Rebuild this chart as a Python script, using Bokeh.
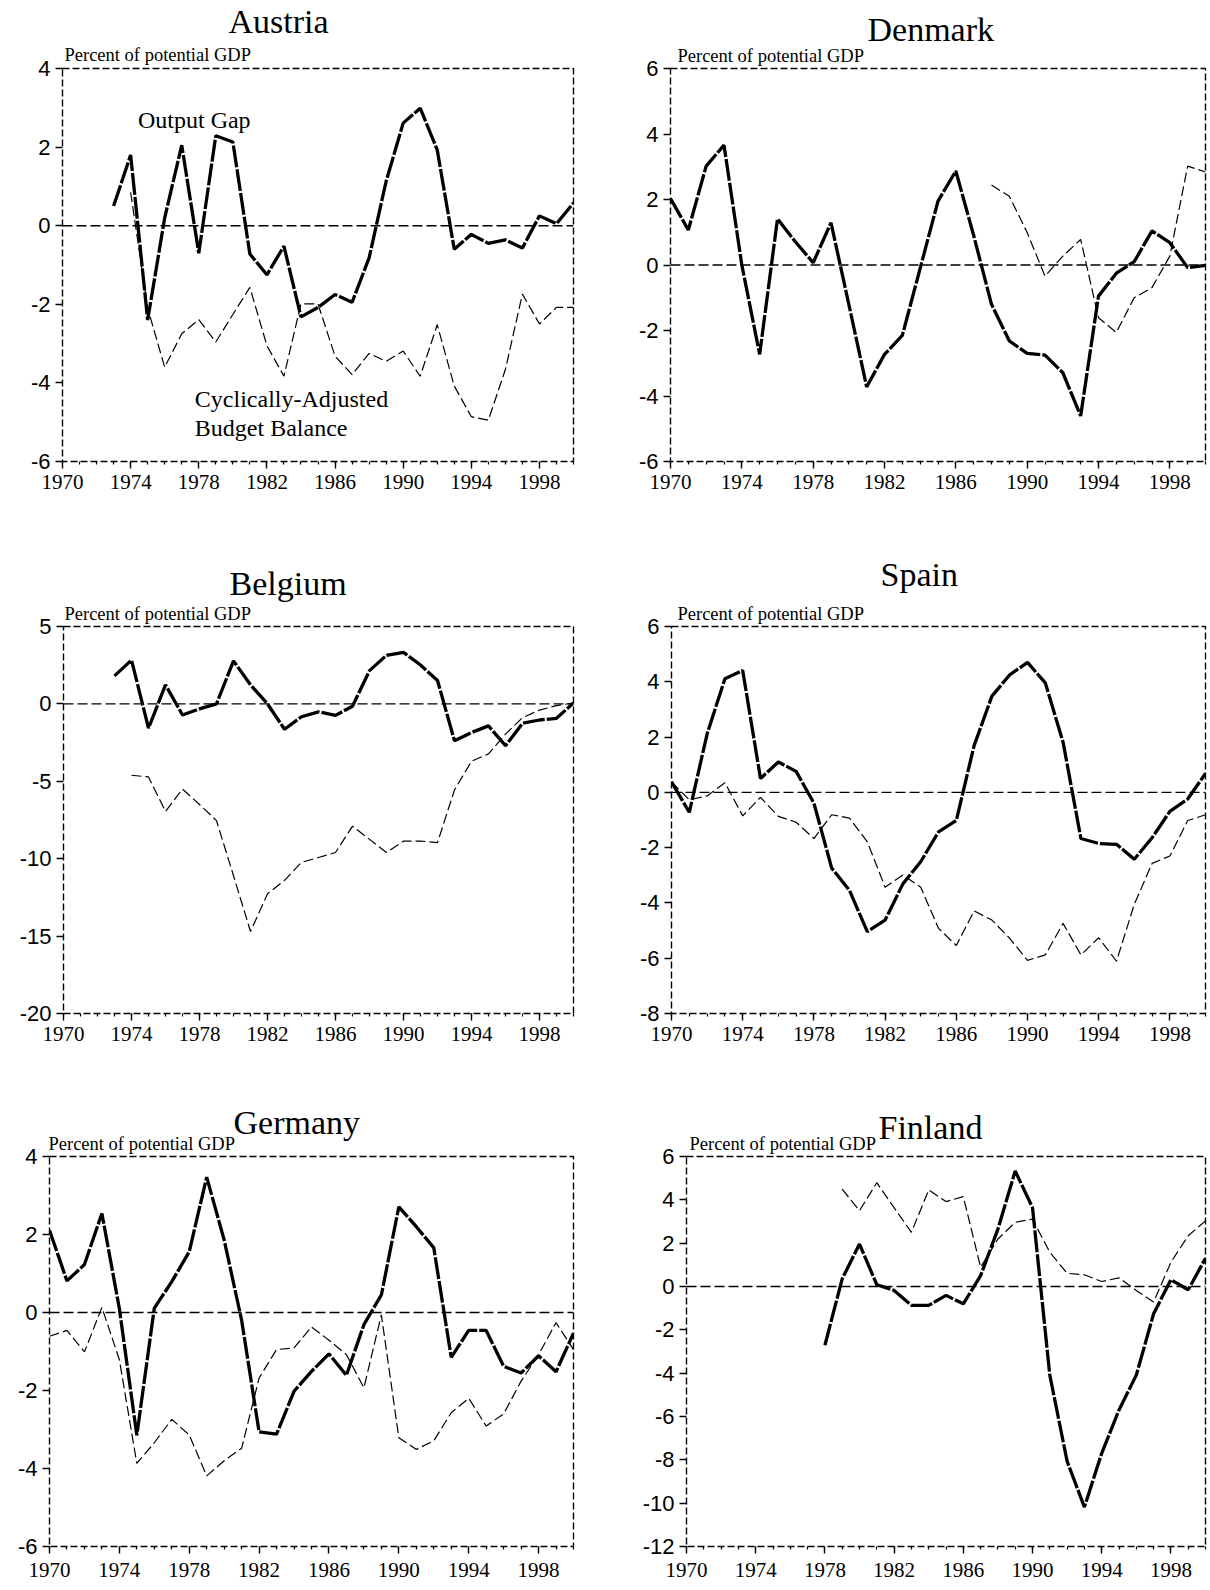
from bokeh.plotting import figure
from bokeh.layouts import column, row
from bokeh.models import Range1d, FixedTicker, Span, Label, Title, PrintfTickFormatter
from bokeh.embed import file_html
from bokeh.resources import INLINE

# ---------------- data ----------------
year_ticks = [1970, 1974, 1978, 1982, 1986, 1990, 1994, 1998]
year_minor = list(range(1970, 2001))

austria_gap_years = list(range(1973, 2001))
austria_gap = [0.50, 1.80, -2.40, 0.20, 2.05, -0.70, 2.29, 2.13, -0.72, -1.25,
               -0.52, -2.32, -2.08, -1.75, -1.95, -0.82, 1.13, 2.61, 2.99, 1.93,
               -0.60, -0.22, -0.45, -0.36, -0.57, 0.25, 0.05, 0.58]
austria_cab_years = list(range(1974, 2001))
austria_cab = [0.85, -2.10, -3.60, -2.75, -2.39, -2.96, -2.26, -1.57, -3.05, -3.83,
               -1.99, -1.99, -3.32, -3.79, -3.25, -3.45, -3.19, -3.83, -2.52, -4.08,
               -4.86, -4.95, -3.66, -1.74, -2.50, -2.08, -2.08]

denmark_gap_years = list(range(1970, 2001))
denmark_gap = [2.03, 1.07, 3.02, 3.66, 0.00, -2.73, 1.41, 0.71, 0.07, 1.29,
               -1.20, -3.72, -2.73, -2.15, -0.10, 1.95, 2.87, 0.90, -1.20, -2.32,
               -2.70, -2.75, -3.29, -4.61, -0.95, -0.25, 0.10, 1.04, 0.68, -0.08, -0.01]
denmark_cab_years = list(range(1988, 2001))
denmark_cab = [2.44, 2.10, 0.99, -0.34, 0.27, 0.78, -1.61, -2.06, -1.00, -0.69,
               0.27, 3.02, 2.84]

belgium_gap_years = list(range(1973, 2001))
belgium_gap = [1.81, 2.83, -1.57, 1.23, -0.72, -0.32, 0.00, 2.78, 1.23, 0.00,
               -1.64, -0.83, -0.51, -0.74, -0.15, 2.15, 3.14, 3.33, 2.51, 1.51,
               -2.38, -1.85, -1.42, -2.70, -1.25, -1.04, -0.93, 0.06]
belgium_cab_years = list(range(1974, 2001))
belgium_cab = [-4.61, -4.72, -6.95, -5.50, -6.50, -7.54, -11.10, -14.70, -12.27, -11.40,
               -10.24, -9.92, -9.60, -7.90, -8.75, -9.60, -8.86, -8.86, -8.96, -5.56,
               -3.70, -3.23, -1.95, -0.89, -0.40, -0.11, 0.06]

spain_gap_years = list(range(1970, 2001))
spain_gap = [0.38, -0.72, 2.11, 4.11, 4.41, 0.50, 1.10, 0.76, -0.39, -2.74,
             -3.55, -5.04, -4.62, -3.31, -2.51, -1.43, -1.02, 1.69, 3.48, 4.25,
             4.70, 3.96, 1.81, -1.67, -1.85, -1.88, -2.42, -1.64, -0.69, -0.24, 0.68]
spain_cab_years = list(range(1970, 2001))
spain_cab = [0.38, -0.27, -0.13, 0.35, -0.85, -0.18, -0.87, -1.08, -1.67, -0.81,
             -0.93, -1.79, -3.43, -2.99, -3.43, -4.92, -5.54, -4.29, -4.62, -5.28,
             -6.08, -5.88, -4.74, -5.88, -5.26, -6.11, -4.05, -2.57, -2.30, -1.02, -0.81]

germany_gap_years = list(range(1970, 2001))
germany_gap = [2.11, 0.81, 1.23, 2.54, 0.10, -3.15, 0.11, 0.79, 1.56, 3.47,
               1.86, -0.20, -3.06, -3.12, -2.02, -1.51, -1.06, -1.61, -0.31, 0.45,
               2.71, 2.20, 1.66, -1.15, -0.46, -0.46, -1.38, -1.55, -1.11, -1.52, -0.53]
germany_cab_years = list(range(1970, 2001))
germany_cab = [-0.61, -0.46, -1.01, 0.13, -1.21, -3.87, -3.34, -2.74, -3.14, -4.19,
               -3.80, -3.48, -1.68, -0.95, -0.91, -0.37, -0.71, -1.08, -1.93, -0.06,
               -3.21, -3.51, -3.29, -2.57, -2.20, -2.91, -2.60, -1.76, -1.08, -0.26, -0.95]

finland_gap_years = list(range(1978, 2001))
finland_gap = [-2.71, 0.35, 1.96, 0.08, -0.18, -0.87, -0.87, -0.41, -0.80, 0.50,
               2.65, 5.33, 3.64, -4.09, -8.06, -10.18, -7.70, -5.70, -4.09, -1.26,
               0.31, -0.15, 1.30]
finland_cab_years = list(range(1979, 2001))
finland_cab = [4.49, 3.50, 4.79, 3.64, 2.50, 4.46, 3.92, 4.15, 0.89, 2.19,
               2.96, 3.11, 1.58, 0.61, 0.54, 0.23, 0.40, -0.18, -0.72, 1.12,
               2.34, 3.03]

subtitle_text = "Percent of potential GDP"

SERIF = "Liberation Serif"
SANS = "Liberation Sans"


def make_panel(name, gap_x, gap_y, cab_x, cab_y, ymin, ymax, ystep,
               width, height, bl, br, bt, bb,
               title_off, title_so, sub_off, sub_so, x_standoff=6):
    p = figure(width=width, height=height, output_backend="svg",
               toolbar_location=None,
               x_range=Range1d(1970, 2000), y_range=Range1d(ymin, ymax),
               min_border_left=bl, min_border_right=br,
               min_border_top=bt, min_border_bottom=bb)
    p.xgrid.visible = False
    p.ygrid.visible = False
    p.background_fill_color = "white"
    p.border_fill_color = "white"
    p.outline_line_color = "black"
    p.outline_line_width = 1.4
    p.outline_line_dash = "7 3"
    p.outline_line_alpha = 1.0

    xa = p.xaxis[0]
    xa.ticker = FixedTicker(ticks=year_ticks, minor_ticks=year_minor)
    xa.axis_line_color = None
    xa.major_tick_line_color = "black"
    xa.major_tick_line_width = 1.4
    xa.major_tick_out = 7
    xa.major_tick_in = 0
    xa.minor_tick_line_color = "black"
    xa.minor_tick_line_width = 1.2
    xa.minor_tick_out = 3
    xa.minor_tick_in = 0
    xa.major_label_text_font = SERIF
    xa.major_label_text_font_size = "21px"
    xa.major_label_text_color = "black"
    xa.major_label_standoff = x_standoff

    ya = p.yaxis[0]
    ya.ticker = FixedTicker(ticks=list(range(ymin, ymax + 1, ystep)), minor_ticks=[])
    ya.formatter = PrintfTickFormatter(format="%d")
    ya.axis_line_color = None
    ya.major_tick_line_color = "black"
    ya.major_tick_line_width = 1.4
    ya.major_tick_out = 7
    ya.major_tick_in = 0
    ya.minor_tick_line_color = None
    ya.major_label_text_font = SANS
    ya.major_label_text_font_size = "22px"
    ya.major_label_text_color = "black"
    ya.major_label_standoff = 5

    p.add_layout(Span(location=0, dimension="width", line_color="black",
                      line_width=1.4, line_dash="10 4"))

    p.line(cab_x, cab_y, line_color="black", line_width=1.2, line_dash="10 4")
    p.line(gap_x, gap_y, line_color="black", line_width=3.3, line_dash="22 2")

    p.title = Title(text="")
    p.add_layout(Title(text=subtitle_text, align="left", offset=sub_off,
                       standoff=sub_so, vertical_align="bottom",
                       text_font=SERIF, text_font_size="18.5px",
                       text_font_style="normal", text_color="black"), "above")
    p.add_layout(Title(text=name, align="left", offset=title_off,
                       standoff=title_so, vertical_align="bottom",
                       text_font=SERIF, text_font_size="34px",
                       text_font_style="normal", text_color="black"), "above")
    return p


aus = make_panel("Austria", austria_gap_years, austria_gap, austria_cab_years, austria_cab,
                 -6, 4, 2, 620, 546, 62, 47, 68, 85, 166, 0, 2, 7)
aus.add_layout(Label(x=1974.43, y=2.70, text="Output Gap", text_font=SERIF,
                     text_font_size="24px", text_baseline="alphabetic", text_color="black"))
aus.add_layout(Label(x=1977.77, y=-4.41, text="Cyclically-Adjusted", text_font=SERIF,
                     text_font_size="24px", text_baseline="alphabetic", text_color="black"))
aus.add_layout(Label(x=1977.77, y=-5.15, text="Budget Balance", text_font=SERIF,
                     text_font_size="24px", text_baseline="alphabetic", text_color="black"))

den = make_panel("Denmark", denmark_gap_years, denmark_gap, denmark_cab_years, denmark_cab,
                 -6, 6, 2, 590, 546, 50, 5, 67, 84, 197, -14, 7, 6)
bel = make_panel("Belgium", belgium_gap_years, belgium_gap, belgium_cab_years, belgium_cab,
                 -20, 5, 5, 620, 540, 63, 47, 76, 73, 166, -7, 1, 6)
spa = make_panel("Spain", spain_gap_years, spain_gap, spain_cab_years, spain_cab,
                 -8, 6, 2, 590, 540, 51, 5, 78, 71, 209, 14, 6, 5)
ger = make_panel("Germany", germany_gap_years, germany_gap, germany_cab_years, germany_cab,
                 -6, 4, 2, 620, 504, 49, 47, 69, 44, 184, -23, -1, 5, x_standoff=9)
fin = make_panel("Finland", finland_gap_years, finland_gap, finland_cab_years, finland_cab,
                 -12, 6, 2, 590, 504, 66, 5, 70, 44, 192, -32, 3, 5, x_standoff=9)

layout = column(row(aus, den, spacing=0), row(bel, spa, spacing=0),
                row(ger, fin, spacing=0), spacing=0)

open("out.html", "w").write(file_html(layout, INLINE))
